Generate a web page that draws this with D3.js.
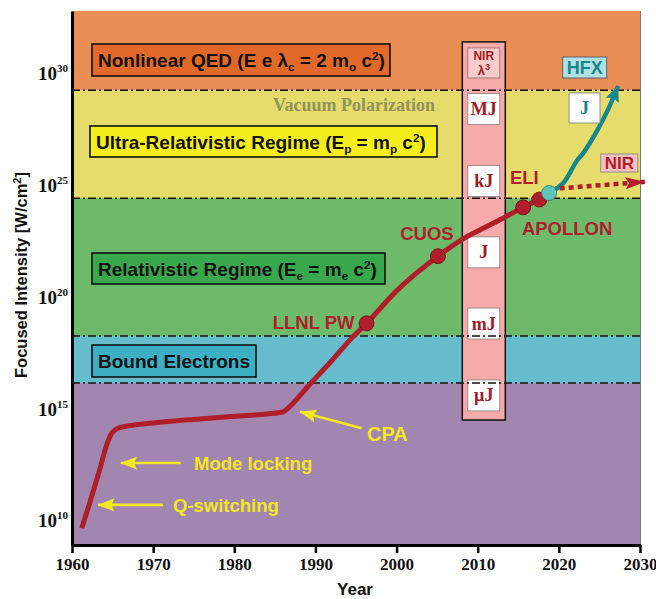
<!DOCTYPE html>
<html><head><meta charset="utf-8">
<script src="https://cdn.jsdelivr.net/npm/d3@7"></script>
<style>body{margin:0;background:#fff}</style>
</head><body>
<svg id="c" width="656" height="599"></svg>
<script>
// ---------- data ----------
const xTicks = [1960, 1970, 1980, 1990, 2000, 2010, 2020, 2030];
const yTickExps = [10, 15, 20, 25, 30];
// regime bands in log10 intensity
const bandTop = [32.8, 29.26, 24.44, 18.28, 16.18];
const bandBottom = [29.26, 24.44, 18.28, 16.18, 8.95];
const boundaryLevels = [29.26, 24.44, 18.28, 16.18];
// main laser-intensity history curve
const mainYears = [1961.2, 1962.2, 1963.4, 1964.3, 1964.9, 1965.7, 1967.5, 1970, 1975, 1980, 1984, 1986.1, 1986.5, 1989.3, 1992.0, 1994.5, 1996.3, 2000.0, 2005.1, 2008.1, 2011.0, 2013.4, 2015.6, 2017.6];
const mainLogI  = [9.7, 10.85, 12.3, 13.45, 13.95, 14.17, 14.3, 14.4, 14.56, 14.7, 14.8, 14.9, 15.02, 16.12, 17.18, 18.2, 18.85, 20.3, 21.85, 22.6, 23.15, 23.6, 24.03, 24.38];
const facilityNames = ["LLNL PW", "CUOS", "APOLLON", "ELI"];
const facilityYears = [1996.3, 2005.1, 2015.6, 2017.6];
const facilityLogI  = [18.85, 21.85, 24.03, 24.38];
const hfxStartYear = 2018.8, hfxStartLogI = 24.67;
const hfxYears = [2018.8, 2020.5, 2022.2, 2023.0, 2024.7, 2026.0, 2027.3];
const hfxLogI  = [24.67, 25.1, 26.1, 26.45, 27.45, 28.35, 29.45];
const nirYears = [2020.1, 2030.6];
const nirLogI  = [24.88, 25.17];
const energyLabels = ["MJ", "kJ", "J", "mJ", "µJ"];
const energyLogI   = [28.42, 25.21, 22.02, 18.84, 15.63];
const nirLambdaLogI = 30.48;
const columnYears = [2008.1, 2013.4];
const columnLogI = [14.53, 31.42];

// ---------- styles ----------
const bandFill = ["#E98F55", "#E5DC6B", "#6DBA6B", "#66BBCC", "#A286B0"];
const RED = "#B01E2B", TEAL = "#17878C", YEL = "#F3E71E", DARKRED = "#9E1B25";
const SANS = "'Liberation Sans', Arial, sans-serif";
const SERIF = "'Liberation Serif', 'Times New Roman', serif";

const svg = d3.select("#c");
const x = d3.scaleLinear().domain([1960, 2030]).range([72, 640]);
const yL = d3.scaleLog().domain([Math.pow(10, 8.95), Math.pow(10, 32.8)]).range([545, 11]);
const Y = v => yL(Math.pow(10, v));

const defs = svg.append("defs");
function marker(id, len, wid, color) {
  defs.append("marker").attr("id", id).attr("viewBox", `0 0 ${len} ${wid}`)
    .attr("markerUnits", "userSpaceOnUse").attr("markerWidth", len).attr("markerHeight", wid)
    .attr("refX", len - 0.5).attr("refY", wid / 2).attr("orient", "auto")
    .append("path").attr("d", `M0,0 L${len},${wid/2} L0,${wid} L${len*0.18},${wid/2} Z`).attr("fill", color);
}
marker("aRed", 20, 12, RED);
marker("aTeal", 16, 14, TEAL);
marker("aYel", 17, 13, YEL);

// bands
svg.append("g").selectAll("rect").data(bandTop).join("rect")
  .attr("x", x(1960)).attr("width", x(2030) - x(1960))
  .attr("y", d => Y(d)).attr("height", (d, i) => Y(bandBottom[i]) - Y(d))
  .attr("fill", (d, i) => bandFill[i]);

// energy column
svg.append("rect").attr("x", x(columnYears[0])).attr("width", x(columnYears[1]) - x(columnYears[0]))
  .attr("y", Y(columnLogI[1])).attr("height", Y(columnLogI[0]) - Y(columnLogI[1]))
  .attr("fill", "#F6AAAA").attr("stroke", "#111").attr("stroke-width", 1.5);
const colMid = (x(columnYears[0]) + x(columnYears[1])) / 2;
const eb = svg.append("g");
eb.append("rect").attr("x", colMid - 16).attr("y", Y(nirLambdaLogI) - 15).attr("width", 32).attr("height", 30)
  .attr("fill", "#F9CBCB").attr("stroke", "#8a6a6a").attr("stroke-width", 0.8);
eb.append("text").attr("x", colMid).attr("y", Y(nirLambdaLogI) - 3).attr("text-anchor", "middle")
  .attr("font-family", SANS).attr("font-weight", "bold").attr("font-size", 12).attr("fill", DARKRED).text("NIR");
const lam = eb.append("text").attr("x", colMid).attr("y", Y(nirLambdaLogI) + 12).attr("text-anchor", "middle")
  .attr("font-family", SANS).attr("font-weight", "bold").attr("font-size", 13).attr("fill", DARKRED);
lam.append("tspan").text("λ");
lam.append("tspan").attr("dy", -5).attr("font-size", 9).text("3");
energyLabels.forEach((t, i) => {
  const cy = Y(energyLogI[i]);
  eb.append("rect").attr("x", colMid - 16).attr("y", cy - 15.5).attr("width", 32).attr("height", 31)
    .attr("fill", "#fff").attr("stroke", "#8a7a7a").attr("stroke-width", 0.8);
  eb.append("text").attr("x", colMid).attr("y", cy + 6).attr("text-anchor", "middle")
    .attr("font-family", SERIF).attr("font-weight", "bold").attr("font-size", 18).attr("fill", DARKRED).text(t);
});

// boundary dash-dot lines
svg.append("g").selectAll("line").data(boundaryLevels).join("line")
  .attr("x1", x(1960)).attr("x2", x(2030)).attr("y1", d => Y(d)).attr("y2", d => Y(d))
  .attr("stroke", "#111").attr("stroke-width", 1.5).attr("stroke-dasharray", "8,3,2,3");

// right border
svg.append("line").attr("x1", x(2030) + 0.5).attr("x2", x(2030) + 0.5).attr("y1", 11).attr("y2", 545)
  .attr("stroke", "#777").attr("stroke-width", 1);

// rich text helper
function rich(g, px, py, parts, size, color, family, weight) {
  const t = g.append("text").attr("x", px).attr("y", py).attr("font-family", family || SANS)
    .attr("font-weight", weight || "bold").attr("font-size", size).attr("fill", color);
  let shift = 0;
  parts.forEach(([s, k]) => {
    const want = k === "sub" ? 4 : k === "sup" ? -7 : 0;
    const ts = t.append("tspan").attr("dy", want - shift).text(s);
    if (k) ts.attr("font-size", size * 0.62);
    shift = want;
  });
  return t;
}

// regime label boxes
const boxes = [
  { x0: 92, y0: 44, w: 298, h: 32, fill: "#E2692A", parts: [["Nonlinear QED (E e λ"], ["c", "sub"], [" = 2 m"], ["o", "sub"], [" c"], ["2", "sup"], [")"]] },
  { x0: 90, y0: 126, w: 347, h: 31, fill: "#F5EE1C", parts: [["Ultra-Relativistic Regime (E"], ["p", "sub"], [" = m"], ["p", "sub"], [" c"], ["2", "sup"], [")"]] },
  { x0: 92, y0: 253, w: 293, h: 31, fill: "#39A74B", parts: [["Relativistic Regime (E"], ["e", "sub"], [" = m"], ["e", "sub"], [" c"], ["2", "sup"], [")"]] },
  { x0: 92, y0: 345, w: 164, h: 32, fill: "#3CAFC5", parts: [["Bound Electrons"]] }
];
const bg = svg.append("g");
boxes.forEach(b => {
  bg.append("rect").attr("x", b.x0).attr("y", b.y0).attr("width", b.w).attr("height", b.h)
    .attr("fill", b.fill).attr("stroke", "#111").attr("stroke-width", 1.6);
  rich(bg, b.x0 + 6, b.y0 + 22.5, b.parts, 19, "#111");
});

svg.append("text").attr("x", 354).attr("y", 111).attr("text-anchor", "middle")
  .attr("font-family", SERIF).attr("font-weight", "bold").attr("font-size", 18).attr("fill", "#92925A")
  .text("Vacuum Polarization");

// yellow annotations
const ann = svg.append("g");
const arrows = [
  { from: [1973.4, 12.61], to: [1966.0, 12.61] },
  { from: [1971.2, 10.74], to: [1963.2, 10.74] },
  { from: [1995.7, 14.16], to: [1988.1, 14.9] }
];
arrows.forEach(a => ann.append("line")
  .attr("x1", x(a.from[0])).attr("y1", Y(a.from[1])).attr("x2", x(a.to[0])).attr("y2", Y(a.to[1]))
  .attr("stroke", YEL).attr("stroke-width", 2.6).attr("marker-end", "url(#aYel)"));
ann.append("text").attr("x", 194).attr("y", 470).attr("font-family", SANS).attr("font-weight", "bold")
  .attr("font-size", 18.5).attr("fill", YEL).text("Mode locking");
ann.append("text").attr("x", 173).attr("y", 512).attr("font-family", SANS).attr("font-weight", "bold")
  .attr("font-size", 18.5).attr("fill", YEL).text("Q-switching");
ann.append("text").attr("x", 367).attr("y", 441).attr("font-family", SANS).attr("font-weight", "bold")
  .attr("font-size", 20).attr("fill", YEL).text("CPA");

// main curve
const line = d3.line().x(d => x(d[0])).y(d => Y(d[1])).curve(d3.curveMonotoneX);
svg.append("path").datum(mainYears.map((yr, i) => [yr, mainLogI[i]]))
  .attr("d", line).attr("fill", "none").attr("stroke", RED).attr("stroke-width", 5);

// HFX teal curve
svg.append("path").datum(hfxYears.map((yr, i) => [yr, hfxLogI[i]]))
  .attr("d", d3.line().x(d => x(d[0])).y(d => Y(d[1])).curve(d3.curveCatmullRom))
  .attr("fill", "none").attr("stroke", TEAL).attr("stroke-width", 4.5).attr("marker-end", "url(#aTeal)");

// NIR dotted
svg.append("line").attr("x1", x(nirYears[0])).attr("y1", Y(nirLogI[0]))
  .attr("x2", x(nirYears[1])).attr("y2", Y(nirLogI[1]))
  .attr("stroke", RED).attr("stroke-width", 4.5).attr("stroke-dasharray", "5,4").attr("marker-end", "url(#aRed)");

// facility dots
svg.append("g").selectAll("circle").data(facilityYears).join("circle")
  .attr("cx", d => x(d)).attr("cy", (d, i) => Y(facilityLogI[i])).attr("r", 7.5)
  .attr("fill", RED).attr("stroke", "#6a1015").attr("stroke-width", 0.8);
svg.append("circle").attr("cx", x(hfxStartYear)).attr("cy", Y(hfxStartLogI)).attr("r", 7.5)
  .attr("fill", "#5EC4B6").attr("stroke", "#2a7a70").attr("stroke-width", 0.8);

// facility labels
const labPos = [
  { dx: -12, dy: 6, anchor: "end" },
  { dx: -11, dy: -16, anchor: "middle" },
  { dx: 44, dy: 28, anchor: "middle" },
  { dx: -15, dy: -16, anchor: "middle" }
];
facilityNames.forEach((n, i) => {
  const p = labPos[i];
  svg.append("text").attr("x", x(facilityYears[i]) + p.dx).attr("y", Y(facilityLogI[i]) + p.dy)
    .attr("text-anchor", p.anchor).attr("font-family", SANS).attr("font-weight", "bold")
    .attr("font-size", 18.5).attr("fill", RED).text(n);
});

// HFX / J / NIR tags
function tag(cx, cy, w, h, fill, stroke, txt, color, fam, size) {
  svg.append("rect").attr("x", cx - w / 2).attr("y", cy - h / 2).attr("width", w).attr("height", h)
    .attr("fill", fill).attr("stroke", stroke).attr("stroke-width", 0.9);
  svg.append("text").attr("x", cx).attr("y", cy + size * 0.36).attr("text-anchor", "middle")
    .attr("font-family", fam).attr("font-weight", "bold").attr("font-size", size).attr("fill", color).text(txt);
}
tag(584.7, 67.5, 44, 21, "#B2E1E5", "#556", "HFX", TEAL, SANS, 18);
tag(584.5, 108, 31, 30, "#fff", "#888", "J", TEAL, SERIF, 18);
tag(619.3, 163, 37, 18, "#F8C2C4", "#888", "NIR", RED, SANS, 17);

// axes
const xAxis = svg.append("g").attr("transform", "translate(0,545)")
  .call(d3.axisBottom(x).tickValues(xTicks).tickFormat(d3.format("d")).tickSize(8).tickSizeOuter(0).tickPadding(5));
xAxis.select(".domain").attr("stroke", "#000").attr("stroke-width", 3);
xAxis.selectAll(".tick line").attr("stroke", "#000").attr("stroke-width", 2.5);
xAxis.selectAll(".tick text").attr("font-family", SERIF).attr("font-weight", "bold").attr("font-size", 17).attr("fill", "#111");

const yAxis = svg.append("g").attr("transform", "translate(72,0)")
  .call(d3.axisLeft(yL).tickValues(yTickExps.map(e => Math.pow(10, e))).tickSize(0).tickSizeOuter(0).tickFormat(""));
yAxis.select(".domain").attr("stroke", "#000").attr("stroke-width", 3);
yTickExps.forEach(e => {
  const t = yAxis.append("text").attr("x", -4).attr("y", Y(e) + 6).attr("text-anchor", "end")
    .attr("font-family", SERIF).attr("font-weight", "bold").attr("font-size", 19).attr("fill", "#111");
  t.append("tspan").text("10");
  t.append("tspan").attr("dy", -8).attr("font-size", 11).text(String(e));
});

// axis titles
const yt = svg.append("text").attr("transform", "translate(27,275) rotate(-90)").attr("text-anchor", "middle")
  .attr("font-family", SANS).attr("font-weight", "bold").attr("font-size", 16.5).attr("fill", "#111");
yt.append("tspan").text("Focused Intensity [W/cm");
yt.append("tspan").attr("dy", -6).attr("font-size", 11).text("2");
yt.append("tspan").attr("dy", 6).text("]");
svg.append("text").attr("x", 355).attr("y", 595).attr("text-anchor", "middle")
  .attr("font-family", SANS).attr("font-weight", "bold").attr("font-size", 17).attr("fill", "#111").text("Year");
</script>
</body></html>
